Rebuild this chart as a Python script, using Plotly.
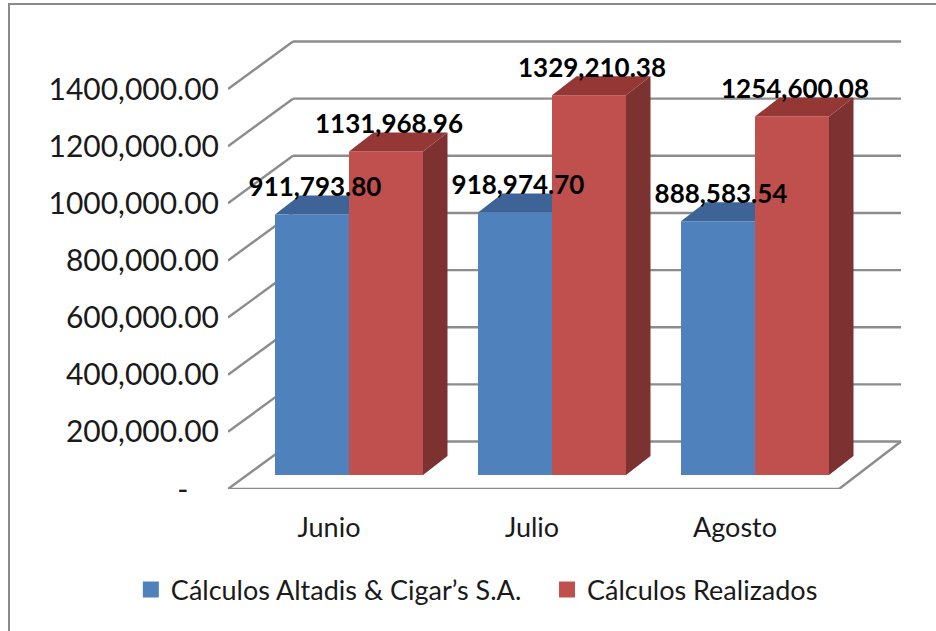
import plotly.graph_objects as go

categories = ["Junio", "Julio", "Agosto"]
series_names = ["Cálculos Altadis & Cigar’s S.A.", "Cálculos Realizados"]
altadis = [911793.80, 918974.70, 888583.54]
realizados = [1131968.96, 1329210.38, 1254600.08]
altadis_labels = ["911,793.80", "918,974.70", "888,583.54"]
realizados_labels = ["1131,968.96", "1329,210.38", "1254,600.08"]
tick_values = [0, 200000, 400000, 600000, 800000, 1000000, 1200000, 1400000]
tick_labels = ["-" + "\u00a0" * 4, "200,000.00", "400,000.00", "600,000.00", "800,000.00",
               "1000,000.00", "1200,000.00", "1400,000.00"]

BLUE, RED = "#4F81BD", "#C0504D"
BLUE_TOP, RED_TOP, RED_SIDE = "#3E6497", "#943735", "#7B3230"
GRID = "#8C8C8C"
FONT = "Lato"

# pixel-size helpers for the oblique projection
PX_X = 1 / 203            # x units per pixel (one category = 203 px)
PX_Y = 1e6 / 285.7        # value units per pixel
W, H = 936, 631
L, R_PX, T_PX, B_PX = 228, 905, 40, 489
x_range = [(L - 349) * PX_X, (R_PX - 349) * PX_X]
y_range = [0, (B_PX - T_PX) * PX_Y]

BAR_W = 74 * PX_X
BASE = 14 * PX_Y
DEPTH_X, DEPTH_Y = 24.5 * PX_X, 19 * PX_Y
WALL_X, WALL_Y = 65 * PX_X, 47.5 * PX_Y
FLOOR_RIGHT = x_range[0] + 611 * PX_X
positions = list(range(len(categories)))

def line(x0, y0, x1, y1):
    return dict(type="line", x0=x0, y0=y0, x1=x1, y1=y1, xref="x", yref="y",
                layer="below", line=dict(color=GRID, width=2.4))

def poly(points):
    xs = [p[0] for p in points] + [points[0][0]]
    ys = [p[1] for p in points] + [points[0][1]]
    return xs, ys

shapes = []
x0 = x_range[0]
right_back = (901 - 349) * PX_X
for v in tick_values:
    shapes.append(line(x0, v, x0 + WALL_X, v + WALL_Y))
    shapes.append(line(x0 + WALL_X, v + WALL_Y, right_back, v + WALL_Y))
shapes.append(line(x0, 0, FLOOR_RIGHT, 0))
shapes.append(line(FLOOR_RIGHT, 0, right_back, WALL_Y))

# top faces of the front-left bars sit behind every bar trace
for p, v in zip(positions, altadis):
    left, right = p - BAR_W, p
    top = BASE + v
    xs, ys = poly([(left, top), (right, top), (right + DEPTH_X, top + DEPTH_Y),
                   (left + DEPTH_X, top + DEPTH_Y)])
    path = "M" + " L".join(f"{a},{b}" for a, b in zip(xs[:-1], ys[:-1])) + " Z"
    shapes.append(dict(type="path", path=path, xref="x", yref="y", layer="below",
                       fillcolor=BLUE_TOP, line=dict(width=0)))

# paper-space outer frame
frame_x0 = (9 - L) / (R_PX - L)
frame_x1 = (940 - L) / (R_PX - L)
frame_y0 = (B_PX - 640) / (B_PX - T_PX)
frame_y1 = (B_PX - 4) / (B_PX - T_PX)
shapes.append(dict(type="rect", xref="paper", yref="paper", x0=frame_x0, x1=frame_x1,
                   y0=frame_y0, y1=frame_y1, layer="below",
                   line=dict(color="#8A8A8A", width=2)))

fig = go.Figure()
fig.add_trace(go.Bar(x=positions, y=altadis, base=BASE, name=series_names[0],
                     marker=dict(color=BLUE, line=dict(width=0)), showlegend=False))
fig.add_trace(go.Bar(x=positions, y=realizados, base=BASE, name=series_names[1],
                     marker=dict(color=RED, line=dict(width=0)), showlegend=False))

for p, v in zip(positions, realizados):
    left, right = p, p + BAR_W
    top = BASE + v
    xs, ys = poly([(right, BASE), (right + DEPTH_X, BASE + DEPTH_Y),
                   (right + DEPTH_X, top + DEPTH_Y), (right, top)])
    fig.add_trace(go.Scatter(x=xs, y=ys, mode="lines", fill="toself", fillcolor=RED_SIDE,
                             line=dict(width=0), hoverinfo="skip", showlegend=False))
    xs, ys = poly([(left, top), (right, top), (right + DEPTH_X, top + DEPTH_Y),
                   (left + DEPTH_X, top + DEPTH_Y)])
    fig.add_trace(go.Scatter(x=xs, y=ys, mode="lines", fill="toself", fillcolor=RED_TOP,
                             line=dict(width=0), hoverinfo="skip", showlegend=False))

# data labels
label_font = dict(family=FONT, size=26, color="#000000", weight="bold")
fig.add_trace(go.Scatter(x=[p - BAR_W / 2 + 3 * PX_X for p in positions],
                         y=[BASE + v + 25 * PX_Y for v in altadis],
                         text=altadis_labels, mode="text", textposition="middle center",
                         textfont=label_font, cliponaxis=False, showlegend=False))
fig.add_trace(go.Scatter(x=[p + BAR_W / 2 + 3 * PX_X for p in positions],
                         y=[BASE + v + 25 * PX_Y for v in realizados],
                         text=realizados_labels, mode="text", textposition="middle center",
                         textfont=label_font, cliponaxis=False, showlegend=False))

# legend entries (non-breaking spaces widen the gap between the two entries)
legend_names = [series_names[0] + "\u00a0" * 3, series_names[1]]
for name, color in zip(legend_names, [BLUE, RED]):
    fig.add_trace(go.Scatter(x=[None], y=[None], mode="markers", name=name,
                             marker=dict(symbol="square", size=16, color=color)))

fig.update_layout(
    width=W, height=H, margin=dict(l=L, r=W - R_PX, t=T_PX, b=H - B_PX),
    paper_bgcolor="white", plot_bgcolor="white",
    barmode="group", bargap=1 - 2 * BAR_W, bargroupgap=0,
    font=dict(family=FONT, size=27, color="#1A1A1A"),
    shapes=shapes,
    legend=dict(orientation="h", xref="paper", yref="paper", x=-0.1435, y=-0.17,
                xanchor="left", yanchor="top", font=dict(family=FONT, size=27),
                bgcolor="rgba(0,0,0,0)", traceorder="normal",
                itemwidth=30),
    xaxis=dict(range=x_range, tickmode="array",
               tickvals=[p - 20 * PX_X for p in positions], ticktext=categories,
               showgrid=False, zeroline=False, showline=False, ticks="", ticklabelstandoff=20),
    yaxis=dict(range=y_range, tickmode="array", tickvals=tick_values, ticktext=tick_labels,
               tickfont=dict(family=FONT, size=30),
               showgrid=False, zeroline=False, showline=False, ticks="", ticklabelstandoff=8),
)
fig.write_html("out.html", config=dict(displayModeBar=False),
               post_script="document.documentElement.style.margin='0';document.body.style.margin='0';document.body.style.overflow='hidden';")
